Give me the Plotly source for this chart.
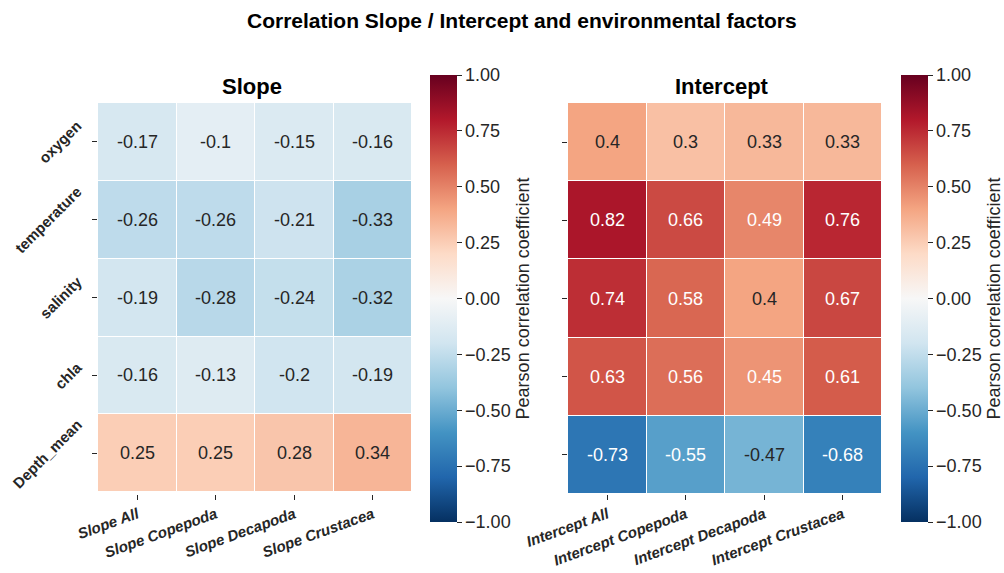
import plotly.graph_objects as go

# Environmental factors (rows) and regression parameters (columns)
factors = ["oxygen", "temperature", "salinity", "chla", "Depth_mean"]
slope_cols = ["Slope All", "Slope Copepoda", "Slope Decapoda", "Slope Crustacea"]
intercept_cols = ["Intercept All", "Intercept Copepoda", "Intercept Decapoda", "Intercept Crustacea"]

# Pearson correlation coefficients
slope_r = [
    [-0.17, -0.1, -0.15, -0.16],
    [-0.26, -0.26, -0.21, -0.33],
    [-0.19, -0.28, -0.24, -0.32],
    [-0.16, -0.13, -0.2, -0.19],
    [0.25, 0.25, 0.28, 0.34],
]
intercept_r = [
    [0.4, 0.3, 0.33, 0.33],
    [0.82, 0.66, 0.49, 0.76],
    [0.74, 0.58, 0.4, 0.67],
    [0.63, 0.56, 0.45, 0.61],
    [-0.73, -0.55, -0.47, -0.68],
]
cbar_ticks = [-1.0, -0.75, -0.5, -0.25, 0.0, 0.25, 0.5, 0.75, 1.0]

# Diverging blue-white-red palette (ColorBrewer RdBu, reversed)
rdbu_r = ["#053061", "#2166ac", "#4393c3", "#92c5de", "#d1e5f0", "#f7f7f7",
          "#fddbc7", "#f4a582", "#d6604d", "#b2182b", "#67001f"]
colorscale = [[i / (len(rdbu_r) - 1), c] for i, c in enumerate(rdbu_r)]

FONT = "Liberation Sans, Arial, sans-serif"
TXT = "#262626"
W, H = 1004, 573


def hex_rgb(h):
    h = h.lstrip("#")
    return [int(h[i:i + 2], 16) / 255 for i in (0, 2, 4)]


def cmap(v, vmin=-1.0, vmax=1.0):
    t = (v - vmin) / (vmax - vmin) * (len(rdbu_r) - 1)
    i = min(int(t), len(rdbu_r) - 2)
    f = t - i
    a, b = hex_rgb(rdbu_r[i]), hex_rgb(rdbu_r[i + 1])
    return [a[k] + (b[k] - a[k]) * f for k in range(3)]


def luminance(rgb):
    lin = [c / 12.92 if c <= 0.03928 else ((c + 0.055) / 1.055) ** 2.4 for c in rgb]
    return 0.2126 * lin[0] + 0.7152 * lin[1] + 0.0722 * lin[2]


def px_x(p):
    return p / W


def px_y(p):
    return (H - p) / H


fig = go.Figure()

panels = [
    ("x", "y", slope_cols, slope_r, 430),
    ("x2", "y2", intercept_cols, intercept_r, 901),
]
for xa, ya, cols, z, cb_left in panels:
    fig.add_trace(go.Heatmap(
        z=z, x=cols, y=factors, xaxis=xa, yaxis=ya,
        zmin=-1, zmax=1, colorscale=colorscale,
        xgap=1, ygap=1, hoverongaps=False,
        colorbar=dict(
            x=px_x(cb_left), xanchor="left", xpad=0, ypad=0,
            y=px_y(298.5), yanchor="middle",
            len=447, lenmode="pixels", thickness=27, thicknessmode="pixels",
            outlinewidth=0,
            tickvals=cbar_ticks, tickformat=".2f",
            ticks="outside", ticklen=5, tickwidth=1, tickcolor=TXT,
            tickfont=dict(family=FONT, size=18, color=TXT),
            title=dict(text="Pearson correlation coefficient", side="right",
                       font=dict(family=FONT, size=18, color=TXT)),
        ),
    ))
    for r, fac in enumerate(factors):
        for c, col in enumerate(cols):
            v = z[r][c]
            color = TXT if luminance(cmap(v)) > 0.408 else "white"
            fig.add_annotation(
                x=col, y=fac, xref=xa, yref=ya, text=format(v, ".2g"),
                showarrow=False, font=dict(family=FONT, size=18, color=color),
            )

# Row labels, rotated 45 degrees and centred on their ticks
for fac in factors:
    fig.add_annotation(
        x=px_x(88), y=fac, xref="paper", yref="y", text=f"<b>{fac}</b>",
        textangle=-45, showarrow=False, xanchor="right", yanchor="middle",
        font=dict(family=FONT, size=15, color=TXT),
    )

axis_common = dict(showgrid=False, zeroline=False, showline=False, automargin=False,
                   ticks="outside", ticklen=5, tickwidth=1, tickcolor=TXT)
ydom = [px_y(494), px_y(103)]

fig.update_layout(
    width=W, height=H,
    margin=dict(l=0, r=0, t=0, b=0, autoexpand=False),
    paper_bgcolor="white", plot_bgcolor="white",
    font=dict(family=FONT, color=TXT),
    xaxis=dict(domain=[px_x(98), px_x(412)], anchor="y", tickangle=-20,
               tickvals=slope_cols,
               ticktext=[f"<b><i>{s}</i></b>" for s in slope_cols],
               tickfont=dict(family=FONT, size=15, color=TXT), **axis_common),
    yaxis=dict(domain=ydom, anchor="x", autorange="reversed",
               showticklabels=False, **axis_common),
    xaxis2=dict(domain=[px_x(568), px_x(882)], anchor="y2", tickangle=-20,
                tickvals=intercept_cols,
                ticktext=[f"<b><i>{s}</i></b>" for s in intercept_cols],
                tickfont=dict(family=FONT, size=15, color=TXT), **axis_common),
    yaxis2=dict(domain=ydom, anchor="x2", autorange="reversed",
                showticklabels=False, **axis_common),
)

# Figure title and panel titles
fig.add_annotation(x=px_x(522), y=px_y(21), xref="paper", yref="paper",
                   text="<b>Correlation Slope / Intercept and environmental factors</b>",
                   showarrow=False, xanchor="center", yanchor="middle",
                   font=dict(family=FONT, size=21, color="black"))
for title, cx in (("Slope", 252), ("Intercept", 722)):
    fig.add_annotation(x=px_x(cx), y=px_y(86), xref="paper", yref="paper",
                       text=f"<b>{title}</b>", showarrow=False,
                       xanchor="center", yanchor="middle",
                       font=dict(family=FONT, size=22, color="black"))

fig.write_html("out.html")
